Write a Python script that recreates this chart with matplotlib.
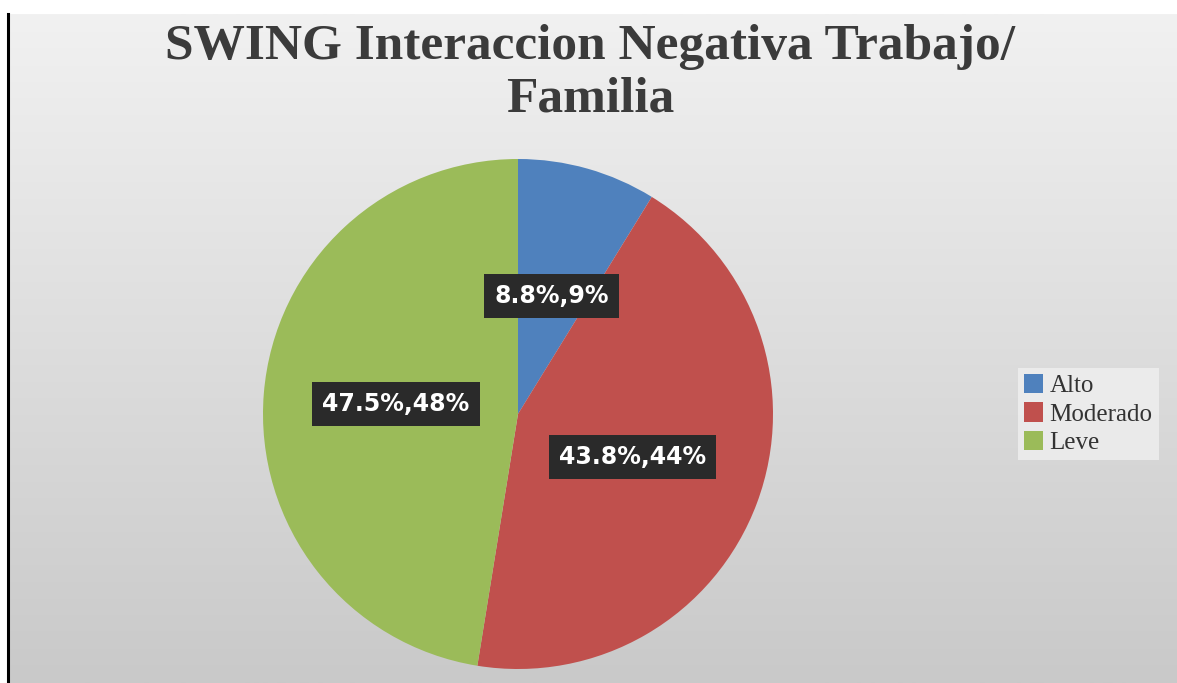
import numpy as np
import matplotlib
matplotlib.use("Agg")
import matplotlib.pyplot as plt
from matplotlib.colors import LinearSegmentedColormap

categories = ["Alto", "Moderado", "Leve"]
values = [8.8, 43.8, 47.5]
colors = ["#4F81BD", "#C0504D", "#9BBB59"]
title = "SWING Interaccion Negativa Trabajo/\nFamilia"

W, H = 1177, 683
fig = plt.figure(figsize=(W / 100, H / 100), dpi=100)
fig.patch.set_facecolor("white")

# background gradient panel
bg = fig.add_axes([8 / W, 0, 1 - 8 / W, (H - 14) / H])
cmap = LinearSegmentedColormap.from_list("g", ["#c9c9c9", "#f1f1f1"])
grad = np.linspace(0, 1, 256).reshape(-1, 1)
bg.imshow(grad, aspect="auto", cmap=cmap, origin="lower", extent=[0, 1, 0, 1])
bg.set_xlim(0, 1); bg.set_ylim(0, 1)
bg.axis("off")
fig.add_artist(plt.Line2D([8 / W, 8 / W], [0, (H - 14) / H], color="black", lw=2.2,
                          transform=fig.transFigure))

cx, cy, r = 518, H - 414, 255
ax = fig.add_axes([(cx - r) / W, (cy - r) / H, 2 * r / W, 2 * r / H])
ax.set_aspect("equal")
labels_txt = [f"{v:.1f}%,{round(v)}%" for v in values]
wedges, texts = ax.pie(values, colors=colors, startangle=90, counterclock=False,
                       labels=labels_txt, labeldistance=0.48, radius=1,
                       wedgeprops=dict(linewidth=0))
for t in texts:
    t.set_ha("center"); t.set_va("center")
    t.set_color("white"); t.set_fontweight("bold"); t.set_fontsize(17)
    t.set_family("DejaVu Sans")
    t.set_bbox(dict(boxstyle="square,pad=0.42", facecolor="#2a2a2a", edgecolor="none"))
ax.set_xlim(-1, 1); ax.set_ylim(-1, 1)

fig.text(590 / W, 1 - 73 / H, title, ha="center", va="center", fontsize=37,
         fontweight="bold", family="Liberation Serif", color="#3b3b3b", linespacing=1.2)

leg = fig.legend(wedges, categories, loc="center left", bbox_to_anchor=(1018 / W, 1 - 414 / H),
                 frameon=True, fancybox=False, prop=dict(family="Liberation Serif", size=18),
                 handlelength=0.75, handleheight=0.8, handletextpad=0.25, labelspacing=0.2,
                 borderpad=0.25, borderaxespad=0.0)
leg.get_frame().set_facecolor("#f3f3f3")
leg.get_frame().set_edgecolor("none")
leg.get_frame().set_alpha(0.7)
for tx in leg.get_texts():
    tx.set_color("#333333")

fig.savefig("out.png", dpi=100, facecolor=fig.get_facecolor())
